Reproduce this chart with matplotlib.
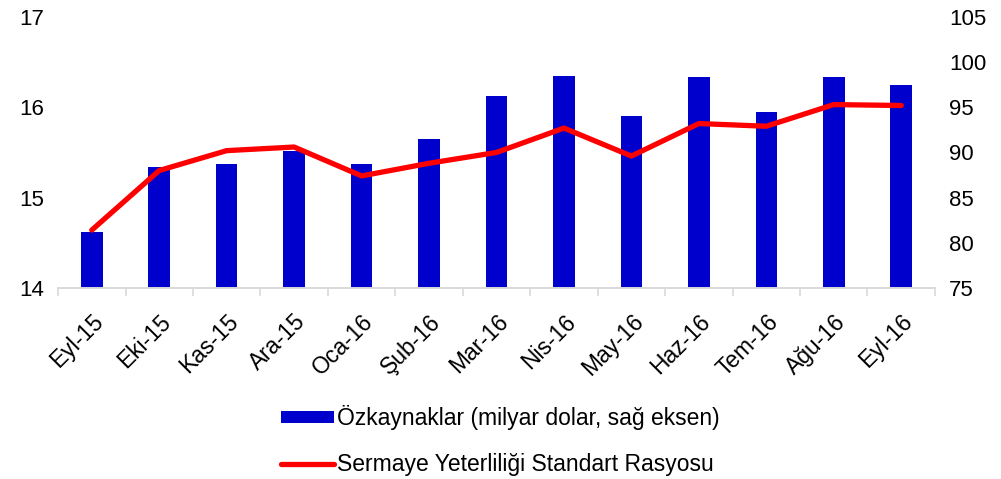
import matplotlib
matplotlib.use("Agg")
import matplotlib.pyplot as plt
import numpy as np

plt.rcParams['font.family'] = ['Liberation Sans', 'DejaVu Sans']

months = ["Eyl-15", "Eki-15", "Kas-15", "Ara-15", "Oca-16", "Şub-16", "Mar-16",
          "Nis-16", "May-16", "Haz-16", "Tem-16", "Ağu-16", "Eyl-16"]
equity = [81.2, 88.4, 88.7, 90.2, 88.7, 91.5, 96.3, 98.5, 94.0, 98.3, 94.5, 98.4, 97.5]
car = [14.64, 15.30, 15.52, 15.56, 15.24, 15.38, 15.50, 15.77, 15.46, 15.82, 15.79, 16.03, 16.02]

bar_label = "Özkaynaklar (milyar dolar, sağ eksen)"
line_label = "Sermaye Yeterliliği Standart Rasyosu"

fig = plt.figure(figsize=(10.01, 4.79), dpi=100)
ax = fig.add_axes([0.058, 0.399, 0.876, 0.5655])
ax2 = ax.twinx()

x = np.arange(len(months))
bars = ax2.bar(x, equity, width=0.32, color="#0000CC", label=bar_label)
line, = ax.plot(x, car, color="#FF0000", lw=3.8, label=line_label, solid_capstyle="round")

# line above bars
ax.set_zorder(ax2.get_zorder() + 1)
ax.patch.set_visible(False)

ax.set_ylim(14, 17)
ax.set_yticks([14, 15, 16, 17])
ax2.set_ylim(75, 105)
ax2.set_yticks(range(75, 106, 5))
ax.set_xlim(-0.5, len(months) - 0.5)

for a in (ax, ax2):
    for s in ("top", "left", "right"):
        a.spines[s].set_visible(False)
    a.spines["bottom"].set_color("#d9d9d9")
    a.spines["bottom"].set_linewidth(1.2)
    a.tick_params(axis="y", length=0, labelsize=16, pad=10)

ax.set_xticks(x)
ax.set_xticklabels(months, rotation=45, ha="right", rotation_mode="anchor", fontsize=16.5)
ax.tick_params(axis="x", which="major", length=0, pad=16)
ax.set_xticks(np.arange(-0.5, len(months), 1), minor=True)
ax.tick_params(axis="x", which="minor", length=6, color="#d9d9d9", width=1.2)
ax2.tick_params(axis="x", length=0)

fig.legend([bars, line], [bar_label, line_label], loc="upper center",
           bbox_to_anchor=(0.5, 0.197), frameon=False, fontsize=16.5,
           handlelength=2.3, handleheight=0.48, handletextpad=0.15, labelspacing=1.0)

fig.savefig("out.png", dpi=100)
